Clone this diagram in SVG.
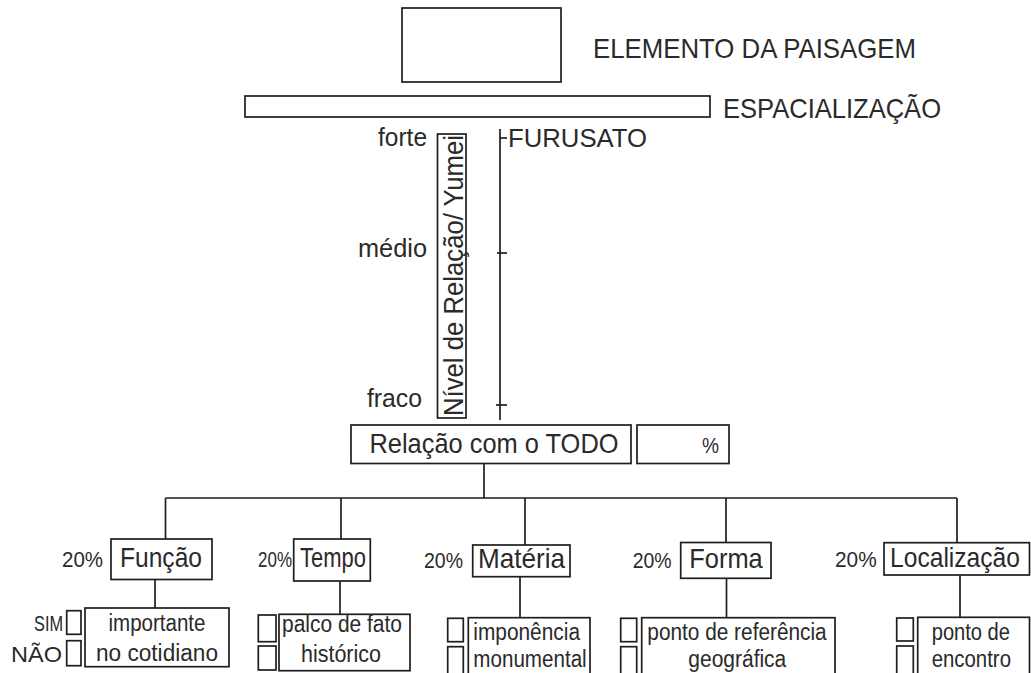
<svg xmlns="http://www.w3.org/2000/svg" width="1031" height="673" viewBox="0 0 1031 673">
<style>
.b{fill:#fff;stroke:#1e1e1e;stroke-width:1.7}
.l{fill:none;stroke:#1e1e1e;stroke-width:1.7}
text{font-family:"Liberation Sans",Arial,sans-serif;fill:#2a2a2a}
.big{font-size:28px}
.mid{font-size:26px}
.cat{font-size:28px}
.pct{font-size:22px}
.sub{font-size:23px}
.c{text-anchor:middle}
.e{text-anchor:end}
</style>
<rect width="1031" height="673" fill="#fff"/>
<g id="connectors">
<line class="l" x1="500" y1="129" x2="500" y2="420"/>
<line class="l" x1="500" y1="138" x2="507" y2="138"/>
<line class="l" x1="497" y1="253" x2="507" y2="253"/>
<line class="l" x1="496" y1="405" x2="507" y2="405"/>
<line class="l" x1="484" y1="463.5" x2="484" y2="498"/>
<line class="l" x1="165.5" y1="498" x2="957" y2="498"/>
<line class="l" x1="165.5" y1="498" x2="165.5" y2="539"/>
<line class="l" x1="341" y1="498" x2="341" y2="539"/>
<line class="l" x1="525" y1="498" x2="525" y2="545"/>
<line class="l" x1="726" y1="498" x2="726" y2="542.5"/>
<line class="l" x1="957" y1="498" x2="957" y2="542.5"/>
<line class="l" x1="155" y1="579.5" x2="155" y2="608"/>
<line class="l" x1="340" y1="581" x2="340" y2="614.3"/>
<line class="l" x1="520" y1="576.7" x2="520" y2="617.7"/>
<line class="l" x1="726.5" y1="578.3" x2="726.5" y2="617.7"/>
<line class="l" x1="960" y1="575" x2="960" y2="617.3"/>
</g>
<g id="elemento">
<rect class="b" x="402" y="8" width="159" height="74"/>
<text class="big" x="593" y="58" textLength="323" lengthAdjust="spacingAndGlyphs">ELEMENTO DA PAISAGEM</text>
</g>
<g id="espacializacao">
<rect class="b" x="245" y="96" width="465" height="21"/>
<text class="big" x="723" y="118" textLength="218" lengthAdjust="spacingAndGlyphs">ESPACIALIZAÇÃO</text>
</g>
<g id="escala">
<text class="mid" x="378" y="146" textLength="49" lengthAdjust="spacingAndGlyphs">forte</text>
<text class="mid" x="358" y="257" textLength="69" lengthAdjust="spacingAndGlyphs">médio</text>
<text class="mid" x="367" y="407" textLength="55" lengthAdjust="spacingAndGlyphs">fraco</text>
<text class="mid" x="508" y="147" textLength="139" lengthAdjust="spacingAndGlyphs">FURUSATO</text>
</g>
<g id="nivel">
<rect class="b" x="437.5" y="134" width="28.5" height="284"/>
<text class="cat" transform="translate(462.5,416) rotate(-90)" textLength="281" lengthAdjust="spacingAndGlyphs">Nível de Relação/ Yumei</text>
</g>
<g id="relacao">
<rect class="b" x="351" y="425" width="280" height="38.5"/>
<text class="cat" x="369.5" y="453" textLength="249" lengthAdjust="spacingAndGlyphs">Relação com o TODO</text>
</g>
<g id="percent">
<rect class="b" x="637" y="425" width="92" height="38.5"/>
<text class="pct" x="702" y="453" font-size="24" textLength="17" lengthAdjust="spacingAndGlyphs">%</text>
</g>
<g id="funcao">
<text class="pct" x="62" y="566.5" textLength="41" lengthAdjust="spacingAndGlyphs">20%</text>
<rect class="b" x="111" y="539" width="101" height="40.5"/>
<text class="cat" x="120" y="566.5" textLength="82" lengthAdjust="spacingAndGlyphs">Função</text>
</g>
<g id="funcao-item">
<text class="pct" x="34" y="631" font-size="21" textLength="29" lengthAdjust="spacingAndGlyphs">SIM</text>
<text class="pct" x="11" y="662" textLength="51" lengthAdjust="spacingAndGlyphs">NÃO</text>
<rect class="b" x="66.7" y="610.7" width="14.3" height="23.6"/>
<rect class="b" x="66.7" y="640.7" width="14.3" height="25"/>
<rect class="b" x="85" y="608" width="144" height="58.7"/>
<text class="sub c" x="157" y="631" textLength="97" lengthAdjust="spacingAndGlyphs">importante</text>
<text class="sub c" x="157" y="660.5" textLength="122" lengthAdjust="spacingAndGlyphs">no cotidiano</text>
</g>
<g id="tempo">
<text class="pct" x="258" y="566.5" textLength="34" lengthAdjust="spacingAndGlyphs">20%</text>
<rect class="b" x="293.7" y="539" width="76.6" height="42"/>
<text class="cat" x="300" y="566.5" textLength="66" lengthAdjust="spacingAndGlyphs">Tempo</text>
</g>
<g id="tempo-item">
<rect class="b" x="258.3" y="615" width="17.7" height="26.7"/>
<rect class="b" x="258.3" y="646" width="17.7" height="24"/>
<rect class="b" x="279" y="614.3" width="131" height="56.4"/>
<text class="sub c" x="342" y="632" textLength="120" lengthAdjust="spacingAndGlyphs">palco de fato</text>
<text class="sub c" x="341" y="662" textLength="80" lengthAdjust="spacingAndGlyphs">histórico</text>
</g>
<g id="materia">
<text class="pct" x="424" y="568" textLength="39" lengthAdjust="spacingAndGlyphs">20%</text>
<rect class="b" x="472.7" y="545" width="97.3" height="31.7"/>
<text class="cat" x="478" y="568" textLength="87" lengthAdjust="spacingAndGlyphs">Matéria</text>
</g>
<g id="materia-item">
<rect class="b" x="447.7" y="618.3" width="15.6" height="23.4"/>
<rect class="b" x="447.7" y="646.7" width="15.6" height="30"/>
<rect class="b" x="468.3" y="617.7" width="121.7" height="60"/>
<text class="sub" x="473.3" y="639.5" textLength="106.7" lengthAdjust="spacingAndGlyphs">imponência</text>
<text class="sub" x="473.3" y="666.7" textLength="113.4" lengthAdjust="spacingAndGlyphs">monumental</text>
</g>
<g id="forma">
<text class="pct" x="632.7" y="567.5" textLength="39" lengthAdjust="spacingAndGlyphs">20%</text>
<rect class="b" x="680.7" y="542.5" width="90.3" height="35.8"/>
<text class="cat" x="689.3" y="567.5" textLength="73.4" lengthAdjust="spacingAndGlyphs">Forma</text>
</g>
<g id="forma-item">
<rect class="b" x="620.7" y="618.3" width="16" height="23.4"/>
<rect class="b" x="620.7" y="646.7" width="16" height="30"/>
<rect class="b" x="641.7" y="617.7" width="193.3" height="60"/>
<text class="sub" x="647.3" y="639.5" textLength="179.4" lengthAdjust="spacingAndGlyphs">ponto de referência</text>
<text class="sub" x="688.3" y="666.7" textLength="98" lengthAdjust="spacingAndGlyphs">geográfica</text>
</g>
<g id="localizacao">
<text class="pct" x="835" y="566.7" textLength="41.7" lengthAdjust="spacingAndGlyphs">20%</text>
<rect class="b" x="884" y="542.7" width="145.5" height="32.3"/>
<text class="cat" x="890" y="566.7" font-size="26" textLength="130" lengthAdjust="spacingAndGlyphs">Localização</text>
</g>
<g id="localizacao-item">
<rect class="b" x="896.7" y="618" width="16.6" height="23"/>
<rect class="b" x="896.7" y="646" width="16.6" height="30"/>
<rect class="b" x="917.7" y="617.3" width="111.8" height="60"/>
<text class="sub" x="931.7" y="639.5" textLength="78.3" lengthAdjust="spacingAndGlyphs">ponto de</text>
<text class="sub" x="931.7" y="666.7" textLength="79.3" lengthAdjust="spacingAndGlyphs">encontro</text>
</g>
</svg>
